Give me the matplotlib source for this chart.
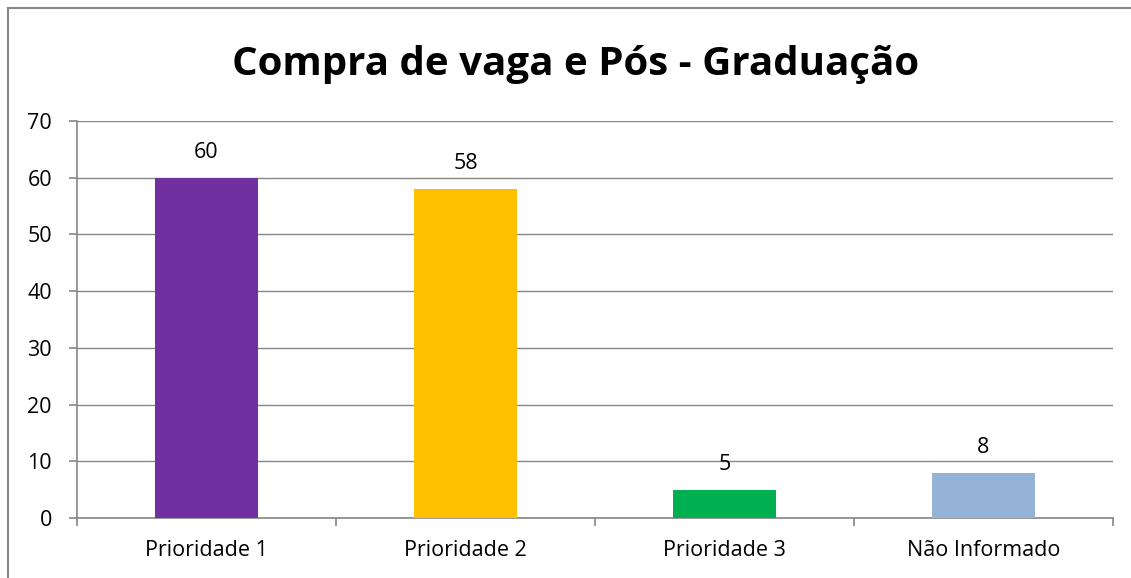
import matplotlib
matplotlib.use('Agg')
import matplotlib.pyplot as plt
from matplotlib.lines import Line2D

categories = ['Prioridade 1', 'Prioridade 2', 'Prioridade 3', 'Não Informado']
values = [60, 58, 5, 8]
colors = ['#7030A0', '#FFC000', '#00B050', '#95B3D7']
title = 'Compra de vaga e Pós - Graduação'

plt.rcParams['font.family'] = ['Open Sans', 'DejaVu Sans']

fig = plt.figure(figsize=(11.31, 5.78), dpi=100)
ax = fig.add_axes([77 / 1131, 1 - 518 / 578, (1113 - 77) / 1131, (518 - 121) / 578])

x = list(range(len(categories)))
ax.bar(x, values, width=0.4, color=colors, zorder=3)
for xi, v in zip(x, values):
    ax.text(xi, v + 2.6, str(v), ha='center', va='bottom', fontsize=15.5)

ax.set_xlim(-0.5, len(categories) - 0.5)
ax.set_ylim(0, 70)
ax.set_yticks(range(0, 71, 10))
ax.set_xticks(x)
ax.set_xticklabels(categories, fontsize=15.5)
ax.set_xticks([i - 0.5 for i in range(len(categories) + 1)], minor=True)
ax.tick_params(axis='x', which='major', length=0, pad=16)
ax.tick_params(axis='x', which='minor', length=6, color='#868686', width=1.2)
ax.tick_params(axis='y', length=6, color='#868686', width=1.2, labelsize=15.5, pad=12)
ax.grid(axis='y', color='#868686', linewidth=1, zorder=0)
for side in ['top', 'right']:
    ax.spines[side].set_visible(False)
for side in ['left', 'bottom']:
    ax.spines[side].set_color('#868686')
    ax.spines[side].set_linewidth(1.2)

fig.text(576 / 1131, 1 - 65 / 578, title, ha='center', va='center',
         fontsize=29, fontweight='bold')

# outer chart border (right and bottom fall outside the image)
fig.add_artist(Line2D([8 / 1131, 8 / 1131], [0, 1 - 8 / 578], color='#868686', lw=1.5))
fig.add_artist(Line2D([8 / 1131, 1], [1 - 8 / 578, 1 - 8 / 578], color='#868686', lw=1.5))

fig.savefig('out.png', dpi=100)
